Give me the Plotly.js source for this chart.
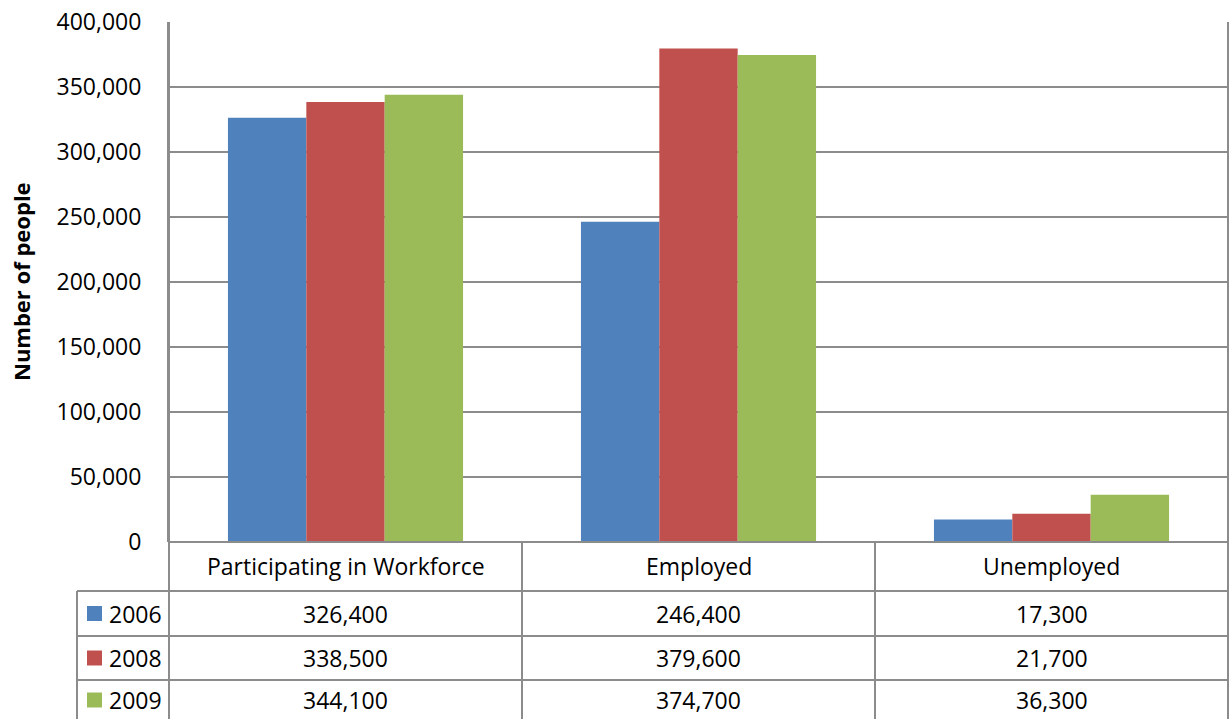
<!DOCTYPE html>
<html>
<head>
<meta charset="utf-8">
<script src="https://cdn.plot.ly/plotly-3.0.1.min.js"></script>
<style>
html,body{margin:0;padding:0;background:#fff;}
#chart{width:1229px;height:719px;}
</style>
</head>
<body>
<div id="chart"></div>
<script>
// ---- data ----
var categories = ["Participating in Workforce", "Employed", "Unemployed"];
var seriesNames = ["2006", "2008", "2009"];
var values2006 = [326400, 246400, 17300];
var values2008 = [338500, 379600, 21700];
var values2009 = [344100, 374700, 36300];
var seriesColors = ["#4F81BD", "#C0504D", "#9BBB59"];
var yTickVals = [0, 50000, 100000, 150000, 200000, 250000, 300000, 350000, 400000];
var yTickText = ["0", "50,000", "100,000", "150,000", "200,000", "250,000", "300,000", "350,000", "400,000"];
var yTitle = "Number of people";

var allValues = [values2006, values2008, values2009];

// ---- geometry (pixels) ----
var W = 1229, H = 719;
var mL = 169, mR = 1, mT = 22, mB = 177;
var plotW = W - mL - mR, plotH = H - mT - mB;
function py(p) { return (H - mB - p) / plotH; }   // pixel y -> paper y
function px(p) { return (p - mL) / plotW; }        // pixel x -> paper x

var FONT = "Open Sans, Noto Sans, sans-serif";
var FS = 23;
var lineCol = "#8c8c8c";

var rowEdges = [542, 591, 636, 680, 725];  // header row + 3 series rows
var legendLeft = 77;

var traces = seriesNames.map(function (name, i) {
  return {
    type: "bar",
    name: name,
    x: categories,
    y: allValues[i],
    marker: { color: seriesColors[i], line: { width: 0 } },
    hoverinfo: "skip"
  };
});

var shapes = [];
var annotations = [];
var nCat = categories.length;

// table horizontal lines
for (var r = 1; r < rowEdges.length - 1; r++) {
  shapes.push({ type: "line", xref: "paper", yref: "paper",
    x0: px(legendLeft), x1: 1, y0: py(rowEdges[r]), y1: py(rowEdges[r]),
    line: { color: lineCol, width: 2 } });
}
// x axis line
shapes.push({ type: "line", xref: "paper", yref: "paper",
  x0: 0, x1: 1, y0: 0, y1: 0, line: { color: lineCol, width: 2 } });
// column separators
for (var k = 0; k <= nCat; k++) {
  shapes.push({ type: "line", xref: "paper", yref: "paper",
    x0: k / nCat, x1: k / nCat, y0: (k === 0 || k === nCat) ? 1 : 0, y1: py(H + 10),
    line: { color: lineCol, width: 2 } });
}
// legend column left border
shapes.push({ type: "line", xref: "paper", yref: "paper",
  x0: px(legendLeft), x1: px(legendLeft), y0: py(rowEdges[1]), y1: py(H + 10),
  line: { color: lineCol, width: 2 } });

// category labels
categories.forEach(function (c, i) {
  annotations.push({ xref: "paper", yref: "paper", x: (i + 0.5) / nCat,
    y: py((rowEdges[0] + rowEdges[1]) / 2 - 1), text: c, showarrow: false,
    xanchor: "center", yanchor: "middle", font: { family: FONT, size: FS, color: "#000" } });
});

// series rows
seriesNames.forEach(function (name, s) {
  var cy = (rowEdges[s + 1] + rowEdges[s + 2]) / 2;
  if (s === seriesNames.length - 1) cy = 700;
  shapes.push({ type: "rect", xref: "paper", yref: "paper",
    x0: px(87), x1: px(102), y0: py(cy - 7.5), y1: py(cy + 7.5),
    fillcolor: seriesColors[s], line: { width: 0 } });
  annotations.push({ xref: "paper", yref: "paper", x: px(107), y: py(cy),
    text: name, showarrow: false, xanchor: "left", yanchor: "middle",
    font: { family: FONT, size: FS, color: "#000" } });
  allValues[s].forEach(function (v, i) {
    annotations.push({ xref: "paper", yref: "paper", x: (i + 0.5) / nCat, y: py(cy),
      text: v.toLocaleString("en-US"), showarrow: false, xanchor: "center", yanchor: "middle",
      font: { family: FONT, size: FS, color: "#000" } });
  });
});

// y title
annotations.push({ xref: "paper", yref: "paper", x: px(21), y: 0.5, text: "<b>" + yTitle + "</b>",
  textangle: -90, showarrow: false, xanchor: "center", yanchor: "middle",
  font: { family: FONT, size: 22, color: "#000" } });

var layout = {
  width: W, height: H,
  margin: { l: mL, r: mR, t: mT, b: mB, pad: 0 },
  paper_bgcolor: "#fff", plot_bgcolor: "#fff",
  barmode: "group", bargap: 0.334, bargroupgap: 0,
  showlegend: false,
  xaxis: { type: "category", range: [-0.5, 2.5], showticklabels: false, showgrid: false,
    zeroline: false, showline: false, ticks: "", fixedrange: true },
  yaxis: { range: [0, 400000], tickvals: yTickVals, ticktext: yTickText,
    showgrid: true, gridcolor: lineCol, gridwidth: 1.5, zeroline: false,
    showline: true, mirror: true, linecolor: lineCol, linewidth: 2,
    ticks: "", ticklabelstandoff: 21,
    tickfont: { family: FONT, size: FS, color: "#000" }, fixedrange: true },
  shapes: shapes,
  annotations: annotations
};

Plotly.newPlot("chart", traces, layout, { staticPlot: true, displayModeBar: false });
</script>
</body>
</html>
